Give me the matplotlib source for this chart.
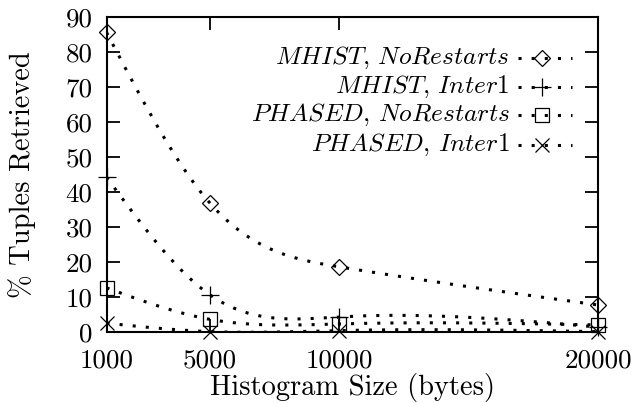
import numpy as np
import matplotlib
matplotlib.use('Agg')
import matplotlib.pyplot as plt

plt.rcParams['font.family'] = 'cmr10'
plt.rcParams['mathtext.fontset'] = 'cm'
plt.rcParams['axes.formatter.use_mathtext'] = True

# histogram sizes (bytes) and % of tuples retrieved
sizes = [1000, 5000, 10000, 20000]
mhist_norestarts = [85.7, 36.9, 18.7, 7.8]
mhist_inter1 = [44.3, 10.7, 4.4, 1.5]
phased_norestarts = [12.7, 3.7, 2.4, 2.1]
phased_inter1 = [2.6, 0.2, 0.5, 0.2]

labels = [r'$MHIST$, $NoRestarts$', r'$MHIST$, $Inter1$',
          r'$PHASED$, $NoRestarts$', r'$PHASED$, $Inter1$']
xticks = [1000, 5000, 10000, 20000]
yticks = list(range(0, 100, 10))


def csplines(x, y, xs):
    # natural cubic spline through the points (like gnuplot smooth csplines)
    x = np.asarray(x, float)
    y = np.asarray(y, float)
    n = len(x)
    h = np.diff(x)
    A = np.zeros((n, n))
    b = np.zeros(n)
    A[0, 0] = 1
    A[-1, -1] = 1
    for i in range(1, n - 1):
        A[i, i - 1] = h[i - 1]
        A[i, i] = 2 * (h[i - 1] + h[i])
        A[i, i + 1] = h[i]
        b[i] = 6 * ((y[i + 1] - y[i]) / h[i] - (y[i] - y[i - 1]) / h[i - 1])
    M = np.linalg.solve(A, b)
    out = np.empty_like(xs)
    for k, t in enumerate(xs):
        i = min(np.searchsorted(x, t, side='right') - 1, n - 2)
        i = max(i, 0)
        a = x[i + 1] - t
        c = t - x[i]
        out[k] = (M[i] * a ** 3 + M[i + 1] * c ** 3) / (6 * h[i]) \
            + (y[i] / h[i] - M[i] * h[i] / 6) * a \
            + (y[i + 1] / h[i] - M[i + 1] * h[i] / 6) * c
    return out


fig = plt.figure(figsize=(6.39, 4.03), dpi=100)
ax = fig.add_axes([0.1667, 0.1754, 0.7691, 0.7816])

dots = dict(color='black', lw=2.2, linestyle=(0, (1, 3.3)),
            dash_capstyle='butt')
series = [
    (mhist_norestarts, dict(marker='D', ms=8.5)),
    (mhist_inter1, dict(marker='+', ms=13)),
    (phased_norestarts, dict(marker='s', ms=10)),
    (phased_inter1, dict(marker='x', ms=10)),
]
xs = np.linspace(sizes[0], sizes[-1], 400)
for vals, mk in series:
    ax.plot(xs, csplines(sizes, vals, xs), **dots)
    ax.plot(sizes, vals, linestyle='none', mfc='none', mec='black',
            mew=0.9, clip_on=False, **mk)

# key: right-aligned labels with a short sample line to the right
key_y = [0.871, 0.779, 0.69, 0.595]
for lab, ky, (vals, mk) in zip(labels, key_y, series):
    ax.text(0.82, ky, lab, transform=ax.transAxes, ha='right',
            va='center', fontsize=18.3)
    ax.plot([0.837, 0.8855, 0.947], [ky, ky, ky], transform=ax.transAxes,
            markevery=[1], mfc='none', mec='black', mew=0.9, **dots, **mk)

ax.set_xlim(1000, 20000)
ax.set_ylim(0, 90)
ax.set_xticks(xticks)
ax.set_xticklabels([str(v) for v in xticks])
ax.set_yticks(yticks)
ax.set_yticklabels([str(v) for v in yticks])
ax.tick_params(direction='in', length=9.4, width=1.3, labelsize=19.5,
               top=True, right=True)
ax.tick_params(axis='y', pad=10)
ax.tick_params(axis='x', pad=12)
for s in ax.spines.values():
    s.set_linewidth(1.5)

fig.text(0.5513, 1 - 387 / 403, 'Histogram Size (bytes)', fontsize=20.5,
         ha='center', va='center')
fig.text(22 / 639, 1 - 174.5 / 403, '% Tuples Retrieved', fontsize=20.5,
         ha='center', va='center', rotation=90)

fig.savefig('out.png', dpi=100)
